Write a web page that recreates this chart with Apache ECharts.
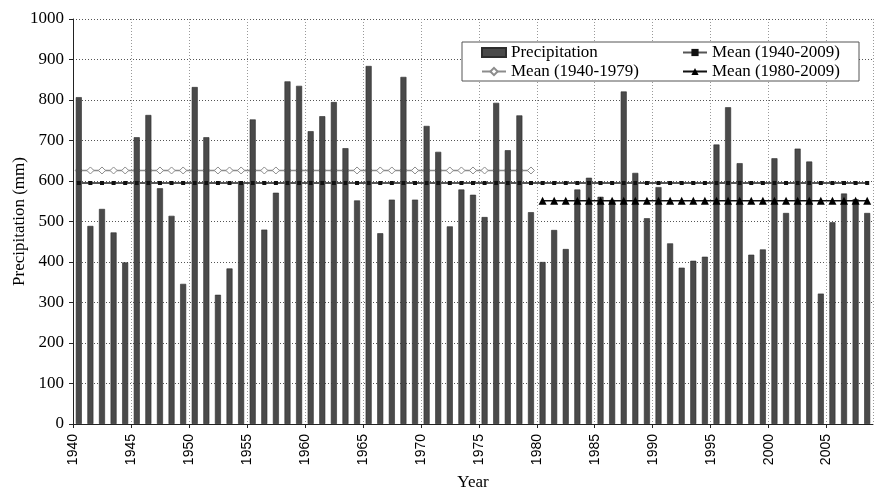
<!DOCTYPE html>
<html>
<head>
<meta charset="utf-8">
<script src="https://cdn.jsdelivr.net/npm/echarts@6/dist/echarts.min.js"></script>
<style>html,body{margin:0;padding:0;background:#fff;}#c{width:877px;height:490px;}</style>
</head>
<body>
<div id="c"></div>
<script>
// Years (one bar per year)
const years = [];
for (let y = 1940; y <= 2008; y++) years.push(String(y));

// Annual precipitation (mm)
const precipitation = [
  807, 489, 531, 473, 399, 708, 763, 582, 514, 346,
  832, 708, 319, 384, 597, 752, 480, 571, 846, 835,
  723, 760, 795, 681, 552, 884, 471, 554, 857, 554,
  736, 672, 488, 579, 566, 511, 793, 676, 762, 523,
  400, 479, 432, 579, 608, 561, 553, 821, 620, 508,
  585, 446, 386, 403, 413, 690, 782, 644, 418, 431,
  656, 521, 680, 648, 322, 498, 569, 555, 521
];

// Mean levels (mm)
const meanAll = 595;     // Mean (1940-2009)
const meanEarly = 626;   // Mean (1940-1979)
const meanLate = 551;    // Mean (1980-2009)

// X tick labels
const tickMin = 1940, tickMax = 2009, tickStep = 5;

const meanAllData = years.map(() => meanAll);
const meanEarlyData = years.map(y => (+y <= 1979 ? meanEarly : null));
const meanLateData = years.map(y => (+y >= 1980 ? meanLate : null));

const serif = '"Liberation Serif", "Times New Roman", serif';
const sans = '"Liberation Sans", Arial, sans-serif';

const chart = echarts.init(document.getElementById('c'));

function legendAt(name, left, top, icon) {
  const l = {
    data: [icon ? { name: name, icon: icon } : name], left: left, top: top, padding: 0, z: 30,
    itemWidth: 24, itemHeight: 9, itemGap: 0,
    textStyle: { fontFamily: serif, fontSize: 17, color: '#000', padding: [0, 0, 0, 0] },
    selectedMode: false
  };
  return l;
}

chart.setOption({
  animation: false,
  backgroundColor: '#fff',
  grid: { left: 73, right: 4, top: 19, bottom: 66, containLabel: false, outerBoundsMode: 'none' },
  graphic: [{
    type: 'rect', z: 20,
    shape: { x: 462, y: 42, width: 397, height: 39 },
    style: { fill: '#fff', stroke: '#555', lineWidth: 1 }
  }],
  legend: [
    legendAt('Precipitation', 481, 44, 'rect'),
    legendAt('Mean (1940-1979)', 481, 63),
    legendAt('Mean (1940-2009)', 682, 44),
    legendAt('Mean (1980-2009)', 682, 63)
  ],
  xAxis: [{
    type: 'category', data: years, boundaryGap: true, show: false
  }, {
    type: 'value', min: tickMin, max: tickMax, interval: tickStep, position: 'bottom',
    name: 'Year', nameLocation: 'middle', nameGap: 50, nameMoveOverlap: false,
    nameTextStyle: { fontFamily: serif, fontSize: 17, color: '#000' },
    axisLine: { show: true, lineStyle: { color: '#222', width: 1 } },
    axisTick: { show: true, length: 4, lineStyle: { color: '#222' } },
    axisLabel: { rotate: 90, margin: 10, fontFamily: sans, fontSize: 14, color: '#000', showMaxLabel: false,
      formatter: v => String(v) },
    splitLine: { show: true, lineStyle: { color: '#999', type: [1, 2], width: 1 } }
  }],
  yAxis: {
    type: 'value', min: 0, max: 1000, interval: 100,
    name: 'Precipitation (mm)', nameLocation: 'middle', nameGap: 45, nameRotate: 90, nameMoveOverlap: false,
    nameTextStyle: { fontFamily: serif, fontSize: 17, color: '#000' },
    axisLine: { show: true, lineStyle: { color: '#222', width: 1 } },
    axisTick: { show: true, length: 4, lineStyle: { color: '#222' } },
    axisLabel: { margin: 9, fontFamily: serif, fontSize: 17, color: '#000', formatter: v => String(v) },
    splitLine: { show: true, lineStyle: { color: '#555', type: [1, 2], width: 1 } }
  },
  series: [{
    name: 'Precipitation', type: 'bar', data: precipitation, xAxisIndex: 0,
    barWidth: 6, z: 3,
    itemStyle: { color: '#4a4a4a', borderColor: '#2e2e2e', borderWidth: 0.6 }
  }, {
    name: 'Mean (1940-1979)', type: 'line', data: meanEarlyData, xAxisIndex: 0, z: 2,
    symbol: 'diamond', symbolSize: 7, showAllSymbol: true,
    lineStyle: { color: '#8c8c8c', width: 1.5 },
    itemStyle: { color: '#fff', borderColor: '#8c8c8c', borderWidth: 1 }
  }, {
    name: 'Mean (1940-2009)', type: 'line', data: meanAllData, xAxisIndex: 0, z: 4,
    symbol: 'rect', symbolSize: 4, showAllSymbol: true,
    lineStyle: { color: '#555', width: 2 },
    itemStyle: { color: '#111', borderColor: '#111', borderWidth: 0 }
  }, {
    name: 'Mean (1980-2009)', type: 'line', data: meanLateData, xAxisIndex: 0, z: 5,
    symbol: 'triangle', symbolSize: 8, showAllSymbol: true,
    lineStyle: { color: '#111', width: 1.5 },
    itemStyle: { color: '#000', borderColor: '#000', borderWidth: 0 }
  }]
});
</script>
</body>
</html>
